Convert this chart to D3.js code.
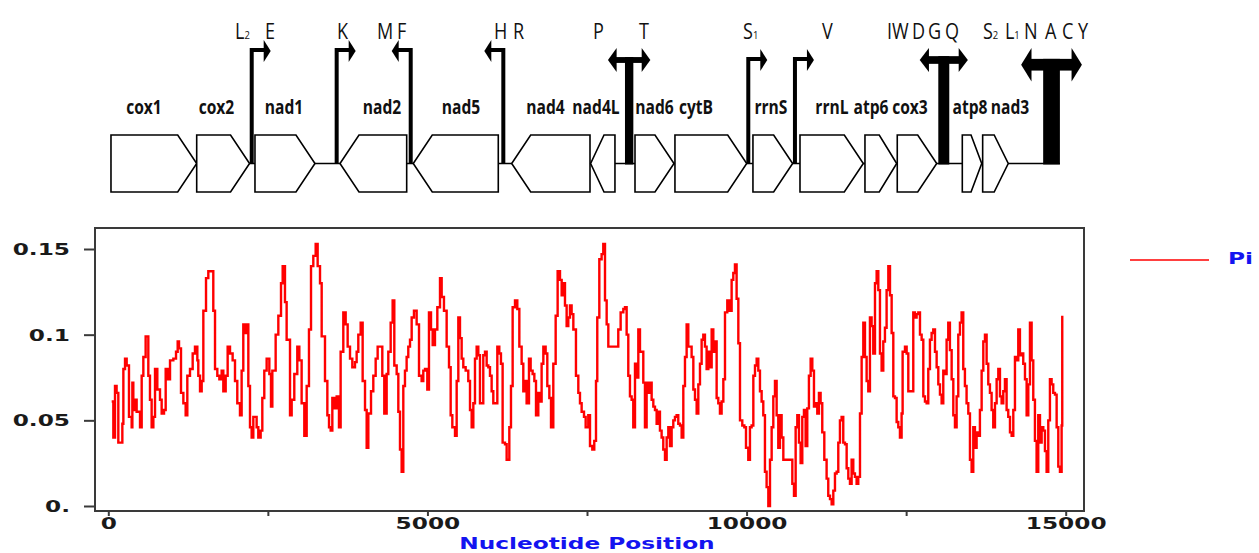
<!DOCTYPE html>
<html>
<head>
<meta charset="utf-8">
<script src="https://cdn.jsdelivr.net/npm/d3@7"></script>
<style>
  html, body { margin: 0; padding: 0; background: #fff; }
  svg { display: block; }
</style>
</head>
<body>
<div id="chart"></div>
<script>
// gene order of the mitogenome (bp), strand +1 / -1, labelAt = where the name sits
const genes = [
  { name: 'cox1', start: 42, end: 1385, strand: 1, labelAt: 559 },
  { name: 'cox2', start: 1385, end: 2213, strand: 1, labelAt: 1695 },
  { name: 'nad1', start: 2298, end: 3238, strand: 1, labelAt: 2753 },
  { name: 'nad2', start: 3630, end: 4675, strand: -1, labelAt: 4288 },
  { name: 'nad5', start: 4778, end: 6110, strand: -1, labelAt: 5526 },
  { name: 'nad4', start: 6320, end: 7547, strand: -1, labelAt: 6850 },
  { name: 'nad4L', start: 7557, end: 7938, strand: -1, labelAt: 7641 },
  { name: 'nad6', start: 8252, end: 8863, strand: 1, labelAt: 8557 },
  { name: 'cytB', start: 8878, end: 10002, strand: 1, labelAt: 9207 },
  { name: 'rrnS', start: 10100, end: 10722, strand: 1, labelAt: 10382 },
  { name: 'rrnL', start: 10837, end: 11829, strand: 1, labelAt: 11338 },
  { name: 'atp6', start: 11855, end: 12352, strand: 1, labelAt: 11949 },
  { name: 'cox3', start: 12361, end: 12979, strand: 1, labelAt: 12560 },
  { name: 'atp8', start: 13380, end: 13684, strand: 1, labelAt: 13500 },
  { name: 'nad3', start: 13699, end: 14100, strand: 1, labelAt: 14127 }
];

// single tRNA arrows
const trnaSingle = [
  { pos: 2247, strand: 1, high: true },
  { pos: 3578, strand: 1, high: true },
  { pos: 4738, strand: -1, high: true },
  { pos: 6189, strand: -1, high: true },
  { pos: 10027, strand: 1, high: false },
  { pos: 10758, strand: 1, high: false }
];

// tRNA clusters on both strands
const trnaCluster = [
  { start: 8095, end: 8226 },
  { start: 13004, end: 13176 },
  { start: 14647, end: 14909 }
];

// tRNA letters above the map
const trnaLetters = [
  { t: 'L', sub: '2', at: 1985 }, { t: 'E', at: 2455 }, { t: 'K', at: 3583 },
  { t: 'M', at: 4209 }, { t: 'F', at: 4523 }, { t: 'H', at: 6043 }, { t: 'R', at: 6341 },
  { t: 'P', at: 7594 }, { t: 'T', at: 8315 }, { t: 'S', sub: '1', at: 9944 },
  { t: 'V', at: 11182 }, { t: 'I', at: 12200 }, { t: 'W', at: 12278 }, { t: 'D', at: 12591 },
  { t: 'G', at: 12842 }, { t: 'Q', at: 13108 }, { t: 'S', sub: '2', at: 13703 },
  { t: 'L', sub: '1', at: 14048 }, { t: 'N', at: 14346 }, { t: 'A', at: 14676 },
  { t: 'C', at: 14942 }, { t: 'Y', at: 15192 }
];

// sliding window nucleotide diversity: [position, Pi]
const piSeries = [
  [53,0.061],[79,0.040],[105,0.070],[130,0.066],[157,0.037],[220,0.048],[236,0.080],[262,0.086],[288,0.082],[324,0.052],
  [366,0.046],[377,0.072],[392,0.056],[418,0.062],[444,0.055],[497,0.046],[523,0.076],[549,0.087],[585,0.099],[627,0.076],
  [653,0.062],[679,0.046],[706,0.052],[732,0.080],[768,0.068],[810,0.062],[836,0.054],[873,0.056],[899,0.080],[930,0.074],
  [967,0.085],[1019,0.086],[1061,0.090],[1087,0.096],[1108,0.092],[1139,0.066],[1176,0.060],[1212,0.053],[1238,0.076],[1280,0.080],
  [1322,0.089],[1358,0.093],[1395,0.085],[1410,0.076],[1437,0.067],[1463,0.073],[1489,0.114],[1531,0.133],[1567,0.137],[1645,0.114],
  [1672,0.080],[1708,0.076],[1740,0.074],[1776,0.079],[1802,0.067],[1839,0.076],[1870,0.093],[1907,0.089],[1948,0.085],[1985,0.073],
  [2021,0.060],[2063,0.053],[2089,0.079],[2115,0.106],[2142,0.101],[2168,0.106],[2194,0.070],[2220,0.046],[2246,0.040],[2272,0.052],
  [2324,0.046],[2350,0.040],[2387,0.044],[2413,0.063],[2444,0.079],[2481,0.086],[2523,0.077],[2549,0.058],[2570,0.079],[2622,0.100],
  [2664,0.111],[2706,0.130],[2732,0.140],[2768,0.119],[2794,0.097],[2847,0.053],[2873,0.062],[2914,0.077],[2961,0.093],[2993,0.085],
  [3029,0.060],[3071,0.041],[3108,0.070],[3144,0.103],[3176,0.140],[3212,0.146],[3249,0.153],[3280,0.140],[3317,0.130],[3343,0.099],
  [3395,0.073],[3432,0.053],[3458,0.046],[3484,0.044],[3510,0.063],[3541,0.057],[3578,0.064],[3614,0.046],[3640,0.090],[3682,0.113],
  [3719,0.106],[3750,0.093],[3787,0.086],[3823,0.081],[3865,0.084],[3891,0.090],[3917,0.100],[3954,0.107],[3985,0.073],[4022,0.056],
  [4048,0.034],[4074,0.054],[4116,0.067],[4152,0.076],[4189,0.086],[4220,0.093],[4257,0.093],[4293,0.076],[4324,0.054],[4361,0.077],
  [4387,0.090],[4424,0.107],[4455,0.120],[4481,0.082],[4518,0.077],[4544,0.055],[4570,0.033],[4596,0.020],[4622,0.070],[4648,0.079],
  [4674,0.087],[4700,0.093],[4727,0.097],[4753,0.110],[4789,0.114],[4831,0.106],[4868,0.076],[4909,0.073],[4935,0.079],[4962,0.080],
  [4998,0.068],[5024,0.113],[5056,0.103],[5082,0.094],[5118,0.103],[5155,0.116],[5197,0.133],[5223,0.122],[5259,0.114],[5301,0.093],
  [5338,0.081],[5364,0.053],[5390,0.046],[5432,0.041],[5458,0.073],[5484,0.110],[5510,0.098],[5536,0.086],[5562,0.081],[5599,0.079],
  [5640,0.073],[5667,0.056],[5693,0.046],[5719,0.060],[5745,0.086],[5771,0.093],[5797,0.088],[5823,0.060],[5875,0.088],[5902,0.090],
  [5928,0.082],[5954,0.081],[5980,0.076],[6006,0.067],[6032,0.060],[6069,0.060],[6095,0.093],[6126,0.089],[6152,0.083],[6178,0.037],
  [6215,0.036],[6241,0.027],[6283,0.046],[6309,0.070],[6335,0.116],[6372,0.120],[6408,0.115],[6440,0.093],[6476,0.083],[6502,0.067],
  [6528,0.073],[6554,0.060],[6591,0.086],[6617,0.079],[6648,0.077],[6675,0.073],[6701,0.053],[6737,0.066],[6763,0.061],[6789,0.083],
  [6816,0.093],[6852,0.089],[6878,0.070],[6910,0.063],[6936,0.046],[6972,0.083],[7009,0.111],[7040,0.137],[7077,0.132],[7103,0.123],
  [7129,0.130],[7155,0.117],[7181,0.105],[7207,0.110],[7233,0.117],[7259,0.112],[7286,0.103],[7327,0.076],[7364,0.066],[7390,0.060],
  [7416,0.055],[7453,0.052],[7479,0.046],[7520,0.053],[7547,0.035],[7583,0.033],[7614,0.038],[7641,0.073],[7661,0.110],[7693,0.144],
  [7729,0.147],[7755,0.153],[7782,0.120],[7808,0.106],[7834,0.093],[7990,0.103],[8027,0.113],[8069,0.115],[8095,0.116],[8121,0.100],
  [8147,0.076],[8173,0.064],[8199,0.062],[8225,0.046],[8252,0.083],[8278,0.075],[8304,0.103],[8330,0.090],[8382,0.072],[8408,0.046],
  [8434,0.072],[8460,0.066],[8487,0.072],[8513,0.062],[8539,0.058],[8565,0.056],[8591,0.048],[8617,0.055],[8643,0.044],[8669,0.040],
  [8695,0.033],[8722,0.027],[8748,0.040],[8774,0.046],[8800,0.035],[8826,0.046],[8852,0.050],[8878,0.052],[8904,0.053],[8930,0.048],
  [8957,0.047],[8983,0.040],[9009,0.070],[9035,0.087],[9061,0.106],[9087,0.093],[9113,0.093],[9139,0.087],[9166,0.068],[9192,0.062],
  [9218,0.054],[9244,0.071],[9270,0.083],[9296,0.097],[9322,0.100],[9348,0.093],[9374,0.080],[9401,0.090],[9427,0.081],[9453,0.103],
  [9479,0.090],[9505,0.096],[9531,0.063],[9557,0.060],[9583,0.054],[9609,0.061],[9636,0.074],[9662,0.113],[9698,0.120],[9730,0.114],
  [9766,0.132],[9792,0.136],[9818,0.141],[9844,0.121],[9871,0.095],[9897,0.050],[9933,0.047],[9965,0.046],[9991,0.034],[10027,0.027],
  [10053,0.046],[10079,0.047],[10106,0.076],[10132,0.082],[10158,0.086],[10184,0.079],[10210,0.067],[10236,0.061],[10262,0.053],[10288,0.020],
  [10314,0.011],[10341,0.000],[10367,0.027],[10393,0.046],[10419,0.064],[10445,0.073],[10471,0.053],[10497,0.034],[10523,0.053],[10549,0.040],
  [10576,0.027],[10717,0.013],[10743,0.006],[10769,0.046],[10795,0.053],[10821,0.037],[10847,0.025],[10873,0.052],[10899,0.056],[10925,0.035],
  [10951,0.057],[10977,0.076],[11004,0.086],[11030,0.079],[11056,0.058],[11082,0.060],[11108,0.054],[11134,0.066],[11160,0.060],[11186,0.043],
  [11218,0.027],[11254,0.016],[11280,0.006],[11307,0.004],[11333,0.001],[11359,0.009],[11385,0.019],[11411,0.020],[11437,0.037],[11463,0.050],
  [11489,0.052],[11515,0.037],[11542,0.036],[11568,0.022],[11594,0.016],[11620,0.013],[11646,0.027],[11672,0.019],[11698,0.017],[11724,0.013],
  [11750,0.017],[11777,0.054],[11803,0.087],[11829,0.107],[11855,0.087],[11881,0.073],[11907,0.067],[11933,0.110],[11959,0.105],[11985,0.089],
  [12012,0.130],[12038,0.137],[12064,0.126],[12090,0.089],[12116,0.079],[12142,0.096],[12168,0.104],[12194,0.126],[12221,0.140],[12247,0.123],
  [12273,0.101],[12299,0.064],[12325,0.063],[12351,0.049],[12377,0.046],[12403,0.040],[12429,0.054],[12445,0.090],[12482,0.093],[12508,0.089],
  [12534,0.067],[12612,0.113],[12638,0.110],[12664,0.112],[12691,0.113],[12717,0.100],[12743,0.097],[12769,0.064],[12795,0.061],[12821,0.060],
  [12847,0.080],[12873,0.097],[12899,0.101],[12925,0.103],[12952,0.090],[12978,0.081],[13004,0.071],[13030,0.065],[13056,0.060],[13082,0.079],
  [13108,0.077],[13134,0.097],[13160,0.107],[13186,0.091],[13213,0.074],[13239,0.053],[13265,0.046],[13291,0.064],[13317,0.100],[13343,0.107],
  [13369,0.113],[13395,0.080],[13421,0.070],[13447,0.060],[13474,0.054],[13500,0.027],[13526,0.020],[13552,0.046],[13578,0.034],[13604,0.043],
  [13630,0.041],[13656,0.056],[13683,0.079],[13709,0.096],[13735,0.100],[13761,0.083],[13787,0.071],[13813,0.066],[13839,0.056],[13865,0.046],
  [13892,0.060],[13918,0.074],[13944,0.080],[13970,0.064],[13996,0.060],[14022,0.067],[14048,0.074],[14074,0.056],[14100,0.052],[14127,0.043],
  [14153,0.041],[14179,0.056],[14205,0.087],[14231,0.085],[14257,0.103],[14283,0.088],[14309,0.089],[14335,0.083],[14362,0.074],[14388,0.053],
  [14414,0.071],[14440,0.107],[14466,0.085],[14492,0.062],[14518,0.038],[14544,0.020],[14570,0.053],[14597,0.037],[14623,0.046],[14649,0.044],
  [14675,0.032],[14701,0.020],[14727,0.050],[14753,0.074],[14779,0.071],[14805,0.066],[14832,0.065],[14858,0.046],[14884,0.023],[14910,0.020],
  [14936,0.047],[14946,0.111]
];

const yTicks = [0, 0.05, 0.1, 0.15];
const yTickLabels = ['0.', '0.05', '0.1', '0.15'];
const xTicks = [0, 2500, 5000, 7500, 10000, 12500, 15000];
const xLabelled = [0, 5000, 10000, 15000];

const W = 1259, H = 553;
const frame = { left: 95, right: 1084, top: 228, bottom: 511 };
const stretch = 1.55;   // the bold plot labels are drawn wide
const narrow = 0.78;    // the gene map labels are condensed

const svg = d3.select('#chart').append('svg')
    .attr('width', W)
    .attr('height', H);

const x = d3.scaleLinear().domain([0, 15000]).range([108.3, 1065.7]);
const y = d3.scaleLinear().domain([0, 0.15]).range([506, 249]);

// ---------- gene map ----------
const mapTop = 135, mapBot = 192, mapMid = 163.5;
const mapFont = '"Open Sans", "Noto Sans", sans-serif';
const map = svg.append('g');

map.append('line')
    .attr('x1', x(genes[0].start)).attr('x2', x(trnaCluster[trnaCluster.length - 1].end))
    .attr('y1', mapMid).attr('y2', mapMid)
    .attr('stroke', '#000').attr('stroke-width', 1.5);

genes.forEach(g => {
    const x0 = x(g.start), x1 = x(g.end);
    const tip = Math.min(19, (x1 - x0) * 0.55);
    const pts = g.strand > 0
        ? [[x0, mapTop], [x1 - tip, mapTop], [x1, mapMid], [x1 - tip, mapBot], [x0, mapBot]]
        : [[x1, mapTop], [x0 + tip, mapTop], [x0, mapMid], [x0 + tip, mapBot], [x1, mapBot]];
    map.append('polygon')
        .attr('points', pts.map(p => p.join(',')).join(' '))
        .attr('fill', '#fff').attr('stroke', '#000').attr('stroke-width', 1.6)
        .attr('stroke-linejoin', 'miter');
    map.append('text')
        .attr('x', x(g.labelAt) / narrow).attr('y', 114)
        .attr('transform', `scale(${narrow},1)`)
        .attr('text-anchor', 'middle')
        .attr('font-family', mapFont).attr('font-weight', 'bold').attr('font-size', 20)
        .attr('fill', '#111')
        .text(g.name);
});

// single tRNA arrows
trnaSingle.forEach(t => {
    const cx = x(t.pos);
    const ly = t.high ? 50 : 59;
    const tipX = cx + t.strand * 19;
    map.append('path')
        .attr('d', `M${cx},${mapMid} V${ly} H${tipX - t.strand * 5}`)
        .attr('fill', 'none').attr('stroke', '#000').attr('stroke-width', 4)
        .attr('stroke-linejoin', 'miter');
    map.append('polygon')
        .attr('points', [[tipX, ly + 1], [tipX - t.strand * 7, ly - 10], [tipX - t.strand * 7, ly + 12]].map(p => p.join(',')).join(' '))
        .attr('fill', '#000');
});

// tRNA clusters: T with double arrow
trnaCluster.forEach(c => {
    const bx0 = x(c.start), bx1 = x(c.end);
    const bw = bx1 - bx0, bc = (bx0 + bx1) / 2;
    const headHalf = Math.max(12, bw);
    const barY = 48 + headHalf;
    const thick = bw * 0.7;
    const half = 12 + bw * 1.1;
    const headLen = 7 + bw * 0.2;
    map.append('rect')
        .attr('x', bx0).attr('y', barY - thick / 2)
        .attr('width', bw).attr('height', mapMid + 1 - (barY - thick / 2))
        .attr('fill', '#000');
    map.append('rect')
        .attr('x', bc - half + headLen - 1).attr('y', barY - thick / 2)
        .attr('width', 2 * (half - headLen) + 2).attr('height', thick)
        .attr('fill', '#000');
    [-1, 1].forEach(s => {
        const tx = bc + s * half;
        map.append('polygon')
            .attr('points', [[tx, barY], [tx - s * headLen, barY - headHalf], [tx - s * headLen, barY + headHalf]].map(p => p.join(',')).join(' '))
            .attr('fill', '#000');
    });
});

// tRNA letters
trnaLetters.forEach(l => {
    const t = map.append('text')
        .attr('x', x(l.at) / 0.86).attr('y', 39)
        .attr('transform', 'scale(0.86,1)')
        .attr('font-family', mapFont).attr('font-size', 21)
        .attr('fill', '#111')
        .text(l.t);
    if (l.sub) t.append('tspan').attr('font-size', 11).text(l.sub);
});

// ---------- Pi plot ----------
const plot = svg.append('g');
const boldFont = '"DejaVu Sans", Verdana, sans-serif';

plot.append('rect')
    .attr('x', frame.left).attr('y', frame.top)
    .attr('width', frame.right - frame.left).attr('height', frame.bottom - frame.top)
    .attr('fill', 'none').attr('stroke', '#3a3a3a').attr('stroke-width', 2);

const yAxis = plot.append('g')
    .attr('transform', `translate(${frame.left},0)`)
    .call(d3.axisLeft(y).tickValues(yTicks).tickSize(11).tickFormat((d, i) => yTickLabels[i]));
yAxis.select('.domain').remove();
yAxis.selectAll('line').attr('stroke', '#3a3a3a').attr('stroke-width', 2);
yAxis.selectAll('text')
    .attr('x', -25 / stretch).attr('dy', '0.36em')
    .attr('transform', `scale(${stretch},1)`)
    .attr('font-family', boldFont).attr('font-weight', 'bold').attr('font-size', 15)
    .attr('fill', '#1a1a1a');

const xAxis = plot.append('g')
    .attr('transform', `translate(0,${frame.bottom})`)
    .call(d3.axisBottom(x).tickValues(xTicks).tickSize(5)
        .tickFormat(d => xLabelled.includes(d) ? String(d) : ''));
xAxis.select('.domain').remove();
xAxis.selectAll('line').attr('stroke', '#3a3a3a').attr('stroke-width', 2);
xAxis.selectAll('text')
    .attr('y', 18).attr('dy', 0)
    .attr('transform', `scale(${stretch},1)`)
    .attr('font-family', boldFont).attr('font-weight', 'bold').attr('font-size', 15)
    .attr('fill', '#1a1a1a');

plot.append('text')
    .attr('x', 587 / stretch).attr('y', 549)
    .attr('transform', `scale(${stretch},1)`)
    .attr('text-anchor', 'middle')
    .attr('font-family', boldFont).attr('font-weight', 'bold').attr('font-size', 15)
    .attr('fill', '#1414f0')
    .text('Nucleotide Position');

const line = d3.line()
    .x(d => x(d[0]))
    .y(d => y(d[1]))
    .curve(d3.curveStepAfter);

plot.append('path')
    .datum(piSeries)
    .attr('d', line)
    .attr('fill', 'none')
    .attr('stroke', '#ff0000')
    .attr('stroke-width', 2.4);

// legend
const legend = svg.append('g');
legend.append('line')
    .attr('x1', 1130).attr('x2', 1209).attr('y1', 260).attr('y2', 260)
    .attr('stroke', '#ff0000').attr('stroke-width', 1.5);
legend.append('text')
    .attr('x', 1228 / stretch).attr('y', 264)
    .attr('transform', `scale(${stretch},1)`)
    .attr('font-family', boldFont).attr('font-weight', 'bold').attr('font-size', 15)
    .attr('fill', '#1414f0')
    .text('Pi');
</script>
</body>
</html>
